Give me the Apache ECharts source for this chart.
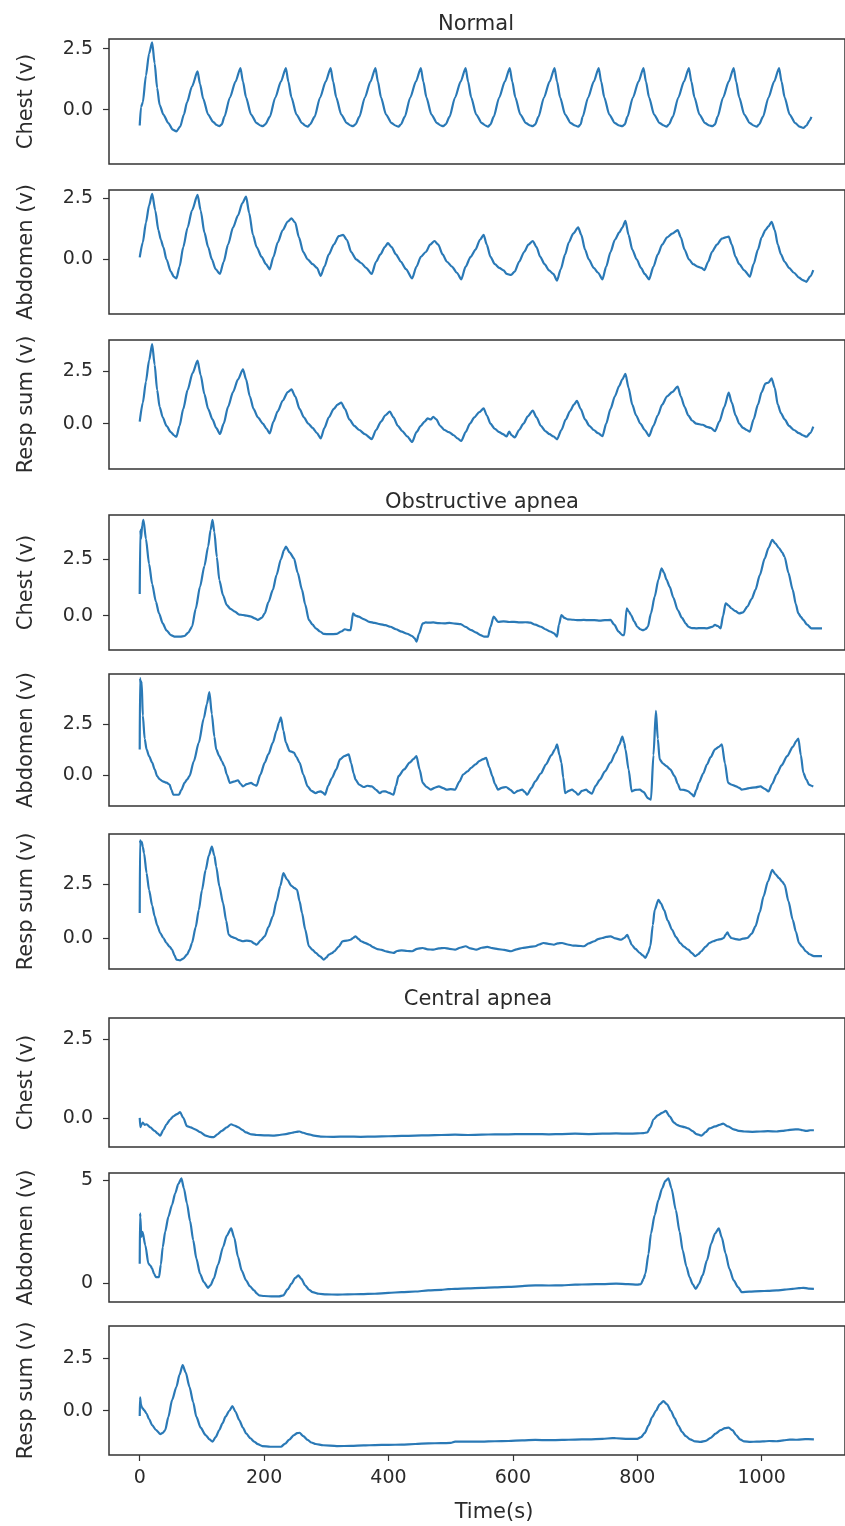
<!DOCTYPE html>
<html>
<head>
<meta charset="utf-8">
<title>Respiration signals</title>
<script src="https://cdn.jsdelivr.net/npm/echarts@6/dist/echarts.min.js"></script>
<style>
  html, body { margin: 0; padding: 0; background: #fff; }
  #chart { width: 845px; height: 1526px; }
</style>
</head>
<body>
<div id="chart"></div>
<script>
// values: [time (s), volts]
const normalChest = [
  [0,-0.65],[2,0.1],[5,0.3],[10,1.4],[15,2.3],[20,2.76],[24,1.9],[28,0.9],[32,0.2],[38,-0.2],[46,-0.55],[53,-0.82],[59,-0.89],[65,-0.7],[71,-0.2],[76,0.3],[84,0.95],[93,1.57],[97,1.05],[102,0.45],[110,-0.2],[118,-0.5],[124,-0.63],[128,-0.68],[132,-0.6],
  [136,-0.3],[145,0.5],[154,1.15],[162,1.71],[166,1.15],[171,0.5],[179,-0.2],[188,-0.55],[194,-0.65],[198,-0.68],[202,-0.6],
  [209,-0.3],[218,0.5],[227,1.15],[235,1.71],[239,1.15],[244,0.5],[252,-0.2],[261,-0.55],[266,-0.65],[270,-0.7],[274,-0.6],
  [281,-0.3],[290,0.5],[299,1.15],[307,1.71],[311,1.15],[316,0.5],[324,-0.2],[333,-0.55],[339,-0.65],[343,-0.68],[347,-0.6],
  [353,-0.3],[362,0.5],[371,1.15],[379,1.71],[383,1.15],[388,0.5],[396,-0.2],[405,-0.55],[411,-0.65],[416,-0.7],[420,-0.6],
  [426,-0.3],[435,0.5],[444,1.15],[452,1.71],[456,1.15],[461,0.5],[469,-0.2],[478,-0.55],[484,-0.65],[488,-0.68],[492,-0.6],
  [498,-0.3],[507,0.5],[516,1.15],[524,1.71],[528,1.15],[533,0.5],[541,-0.2],[550,-0.55],[556,-0.65],[560,-0.7],[564,-0.6],
  [569,-0.3],[578,0.5],[587,1.15],[595,1.71],[599,1.15],[604,0.5],[612,-0.2],[621,-0.55],[628,-0.65],[632,-0.68],[636,-0.6],
  [641,-0.3],[650,0.5],[659,1.15],[667,1.71],[671,1.15],[676,0.5],[684,-0.2],[693,-0.55],[700,-0.65],[705,-0.7],[709,-0.6],
  [712,-0.3],[721,0.5],[730,1.15],[738,1.71],[742,1.15],[747,0.5],[755,-0.2],[764,-0.55],[771,-0.65],[776,-0.68],[780,-0.6],
  [784,-0.3],[793,0.5],[802,1.15],[810,1.71],[814,1.15],[819,0.5],[827,-0.2],[836,-0.55],[843,-0.65],[847,-0.7],[851,-0.6],
  [857,-0.3],[866,0.5],[875,1.15],[883,1.71],[887,1.15],[892,0.5],[900,-0.2],[909,-0.55],[916,-0.65],[921,-0.68],[925,-0.6],
  [929,-0.3],[938,0.5],[947,1.15],[955,1.71],[959,1.15],[964,0.5],[972,-0.2],[981,-0.55],[987,-0.65],[992,-0.7],[996,-0.6],
  [1002,-0.3],[1011,0.5],[1020,1.15],[1028,1.71],[1032,1.15],[1037,0.5],[1045,-0.2],[1054,-0.55],[1061,-0.7],[1067,-0.75],[1072,-0.65],[1077,-0.45],[1080,-0.3]
];
const normalAbdomen = [
  [0,0.08],[5,0.7],[10,1.5],[15,2.2],[20,2.68],[25,2.0],[30,1.2],[34,0.8],[38,0.5],[43,0.0],[50,-0.5],[55,-0.72],[59,-0.78],[64,-0.3],[70,0.5],[77,1.3],[84,2.0],[93,2.64],[98,2.0],[104,1.1],[110,0.5],[116,0.0],[122,-0.4],[129,-0.6],
  [135,-0.1],[142,0.6],[150,1.3],[158,1.8],[165,2.3],[171,2.57],[176,1.9],[182,1.0],[188,0.5],[196,0.1],[203,-0.2],[209,-0.41],[215,0.1],[222,0.7],[230,1.2],[238,1.55],[244,1.68],[250,1.5],[256,0.9],[263,0.3],[270,0.0],[278,-0.2],[285,-0.35],[291,-0.68],
  [297,-0.3],[304,0.2],[312,0.6],[320,0.95],[327,1.0],[333,0.8],[340,0.3],[348,0.0],[356,-0.15],[364,-0.35],[373,-0.6],[380,-0.1],[387,0.2],[394,0.5],[399,0.66],[405,0.5],[412,0.2],[420,-0.1],[428,-0.4],[438,-0.78],
  [445,-0.3],[452,0.1],[460,0.3],[467,0.6],[474,0.75],[480,0.6],[487,0.2],[494,-0.1],[502,-0.3],[510,-0.55],[517,-0.82],[524,-0.3],[532,0.1],[540,0.4],[547,0.8],[553,1.0],[558,0.6],[564,0.1],[571,-0.2],[578,-0.35],[585,-0.45],[590,-0.6],[597,-0.64],
  [603,-0.5],[610,-0.1],[618,0.3],[625,0.6],[632,0.75],[638,0.5],[644,0.1],[651,-0.2],[658,-0.45],[665,-0.6],[671,-0.87],[677,-0.4],[684,0.2],[690,0.7],[697,1.05],[705,1.31],[710,1.0],[716,0.4],[722,0.0],[730,-0.35],[737,-0.55],[744,-0.82],
  [750,-0.3],[757,0.3],[764,0.8],[771,1.1],[776,1.3],[781,1.58],[786,1.0],[792,0.4],[799,0.0],[806,-0.35],[812,-0.6],[819,-0.82],[826,-0.3],[833,0.2],[840,0.6],[848,0.9],[856,1.05],[865,1.2],[870,0.9],[876,0.4],[883,0.0],[890,-0.2],[897,-0.3],[903,-0.35],[908,-0.44],
  [914,-0.1],[920,0.3],[928,0.6],[936,0.85],[942,0.9],[947,0.93],[952,0.6],[958,0.1],[964,-0.2],[972,-0.45],[981,-0.71],[987,-0.2],[994,0.4],[1000,0.9],[1006,1.2],[1011,1.35],[1016,1.54],[1021,1.2],[1026,0.6],[1031,0.2],[1037,-0.1],[1044,-0.35],[1052,-0.55],[1060,-0.75],[1066,-0.85],[1072,-0.92],[1078,-0.7],[1083,-0.44]
];
const normalResp = [
  [0,0.1],[5,1.0],[10,2.0],[15,3.0],[20,3.78],[24,2.8],[28,1.6],[32,0.8],[37,0.3],[43,-0.1],[50,-0.4],[55,-0.55],[59,-0.62],[64,-0.1],[70,0.7],[77,1.6],[85,2.4],[93,2.99],[98,2.3],[104,1.4],[110,0.7],[117,0.2],[123,-0.2],[129,-0.49],
  [135,0.0],[142,0.8],[150,1.5],[158,2.1],[166,2.58],[171,2.1],[177,1.3],[183,0.7],[190,0.3],[198,0.0],[204,-0.25],[209,-0.46],[215,0.1],[222,0.6],[230,1.1],[238,1.5],[244,1.63],[250,1.3],[257,0.7],[264,0.3],[271,0.0],[278,-0.2],[285,-0.45],[291,-0.7],
  [297,-0.2],[304,0.3],[312,0.7],[318,0.9],[324,1.0],[330,0.7],[337,0.2],[345,-0.1],[353,-0.3],[362,-0.5],[373,-0.73],[380,-0.3],[388,0.1],[395,0.4],[402,0.57],[408,0.3],[415,-0.1],[422,-0.35],[430,-0.6],[438,-0.87],
  [445,-0.4],[452,-0.1],[458,0.1],[463,0.25],[468,0.2],[472,0.33],[477,0.2],[483,-0.1],[490,-0.3],[497,-0.4],[505,-0.55],[511,-0.7],[517,-0.82],[524,-0.4],[531,0.0],[538,0.3],[546,0.55],[553,0.73],[558,0.4],[564,0.0],[571,-0.25],[578,-0.4],[584,-0.5],[590,-0.6],[594,-0.38],[598,-0.55],[603,-0.65],
  [610,-0.3],[617,0.0],[624,0.35],[632,0.62],[638,0.3],[645,-0.1],[652,-0.35],[659,-0.5],[665,-0.6],[671,-0.74],[678,-0.3],[685,0.2],[692,0.6],[698,0.9],[703,1.08],[709,0.7],[716,0.2],[723,-0.1],[730,-0.3],[737,-0.45],[744,-0.59],
  [750,0.0],[757,0.7],[764,1.3],[771,1.8],[776,2.1],[781,2.36],[786,1.7],[792,0.9],[798,0.4],[805,0.0],[812,-0.3],[819,-0.59],[826,-0.1],[833,0.4],[840,0.9],[848,1.3],[856,1.5],[865,1.76],[870,1.3],[876,0.8],[882,0.4],[888,0.15],[895,0.0],[905,-0.05],[912,-0.15],[918,-0.2],[925,-0.35],
  [932,0.1],[940,0.8],[947,1.47],[952,1.0],[958,0.4],[964,0.0],[970,-0.2],[976,-0.3],[981,-0.38],[987,0.2],[994,0.9],[1000,1.5],[1006,1.9],[1011,1.95],[1016,2.15],[1021,1.7],[1026,0.9],[1031,0.5],[1037,0.2],[1044,-0.1],[1052,-0.3],[1060,-0.45],[1066,-0.55],[1072,-0.62],[1078,-0.45],[1083,-0.14]
];
const obsChest = [
  [0,0.96],[1,3.8],[2,3.4],[4,4.0],[6,4.25],[10,3.4],[15,2.3],[20,1.4],[26,0.62],[31,0.1],[37,-0.34],[43,-0.65],[50,-0.86],[57,-0.93],[65,-0.93],[72,-0.9],[78,-0.75],[84,-0.5],[90,0.3],[97,1.29],[104,2.2],[110,3.06],[114,3.8],[117,4.25],[120,3.7],[124,2.6],[128,1.58],[134,0.9],[140,0.47],[146,0.3],[153,0.18],[160,0.05],[166,0.03],[172,0.0],[179,-0.04],[185,-0.12],[190,-0.19],[196,-0.1],
  [201,0.1],[207,0.6],[214,1.14],[220,1.8],[227,2.5],[232,2.9],[235,3.06],[241,2.8],[248,2.54],[254,1.9],[261,1.14],[266,0.5],[272,-0.19],[278,-0.4],[283,-0.56],[290,-0.7],[296,-0.81],[305,-0.82],[317,-0.81],[324,-0.7],[330,-0.6],[336,-0.64],[339,-0.64],[343,0.1],[347,0.0],[352,-0.04],[360,-0.15],[369,-0.27],[378,-0.32],[386,-0.37],[395,-0.42],[403,-0.49],[412,-0.6],[421,-0.71],[430,-0.8],[438,-0.9],[442,-1.0],[445,-1.15],[449,-0.8],
  [455,-0.34],[460,-0.3],[464,-0.31],[472,-0.3],[481,-0.33],[490,-0.34],[498,-0.32],[507,-0.35],[516,-0.37],[524,-0.5],[533,-0.64],[541,-0.75],[548,-0.86],[554,-0.93],[560,-0.93],[564,-0.5],[569,-0.04],[576,-0.27],[585,-0.25],[594,-0.28],[602,-0.27],[611,-0.3],[620,-0.29],[628,-0.31],[636,-0.4],[645,-0.49],[652,-0.6],[660,-0.7],[666,-0.78],[671,-0.93],[674,-0.4],[678,0.03],[683,-0.1],[688,-0.16],[697,-0.18],[705,-0.2],[714,-0.19],[722,-0.2],[731,-0.2],[740,-0.22],[748,-0.2],[757,-0.19],
  [763,-0.4],[770,-0.71],[776,-0.86],[779,-0.86],[783,0.33],[786,0.2],[790,0.03],[795,-0.25],[800,-0.49],[805,-0.6],[809,-0.64],[813,-0.6],[817,-0.49],[822,0.1],[828,0.84],[834,1.6],[839,2.1],[843,1.9],[847,1.6],[852,1.29],[858,0.8],[865,0.25],[872,-0.1],[878,-0.35],[882,-0.49],[888,-0.55],[895,-0.56],[903,-0.55],[912,-0.56],[920,-0.5],[925,-0.41],[929,-0.45],[934,-0.56],[938,0.0],[942,0.55],[947,0.45],[951,0.33],[958,0.2],[964,0.1],[970,0.15],[977,0.4],[984,0.75],[990,1.14],[997,1.8],
  [1005,2.54],[1011,3.0],[1017,3.36],[1022,3.2],[1028,2.99],[1033,2.8],[1037,2.6],[1043,1.9],[1050,1.14],[1055,0.5],[1059,0.1],[1063,-0.05],[1067,-0.19],[1073,-0.4],[1080,-0.56],[1088,-0.56],[1097,-0.56]
];
const obsAbdomen = [
  [0,1.28],[0.5,4.77],[2,4.3],[3,4.6],[5,2.93],[8,1.8],[11,1.28],[15,0.95],[20,0.63],[24,0.3],[28,-0.03],[32,-0.18],[37,-0.28],[43,-0.35],[48,-0.44],[51,-0.7],[54,-0.94],[63,-0.94],[67,-0.7],[72,-0.36],[76,-0.2],[80,-0.03],[87,0.7],[95,1.61],[103,2.8],[108,3.5],[112,4.08],[116,3.0],[120,1.9],[123,1.28],[128,0.95],[132,0.7],[136,0.46],[140,0.05],[145,-0.36],[151,-0.3],[158,-0.23],[162,-0.4],[166,-0.53],[172,-0.42],[179,-0.36],[184,-0.45],[188,-0.49],
  [194,0.05],[201,0.63],[207,1.05],[214,1.61],[220,2.2],[224,2.6],[227,2.85],[231,2.2],[235,1.61],[241,1.2],[248,1.12],[252,0.9],[257,0.63],[263,0.05],[270,-0.53],[276,-0.75],[283,-0.86],[287,-0.8],[291,-0.77],[295,-0.85],[298,-0.94],[303,-0.5],[309,-0.12],[316,0.3],[322,0.79],[329,0.95],[336,1.04],[340,0.6],[344,0.1],[347,-0.2],[353,-0.45],[360,-0.56],[366,-0.5],[373,-0.53],[380,-0.7],[386,-0.86],[390,-0.78],[395,-0.77],[401,-0.85],[408,-0.94],
  [412,-0.5],[416,-0.03],[425,0.3],[434,0.63],[440,0.8],[445,0.95],[450,0.3],[455,-0.36],[461,-0.55],[468,-0.69],[474,-0.6],[481,-0.53],[488,-0.62],[494,-0.69],[500,-0.66],[507,-0.69],[514,-0.3],[520,0.05],[527,0.2],[533,0.38],[540,0.55],[546,0.71],[552,0.8],[557,0.87],[562,0.4],[567,-0.03],[571,-0.4],[576,-0.69],[582,-0.6],[589,-0.56],[596,-0.7],[602,-0.86],[608,-0.75],[615,-0.69],[619,-0.8],[623,-0.94],
  [630,-0.6],[636,-0.28],[645,0.1],[653,0.54],[662,1.0],[668,1.3],[671,1.53],[675,1.0],[678,0.63],[681,-0.1],[684,-0.86],[690,-0.75],[695,-0.69],[700,-0.8],[705,-0.94],[711,-0.75],[718,-0.69],[722,-0.8],[727,-0.89],[733,-0.5],[740,-0.2],[748,0.2],[757,0.63],[765,1.1],[771,1.5],[776,1.91],[779,1.6],[781,1.28],[786,0.3],[791,-0.77],[797,-0.7],[804,-0.69],[810,-0.8],[817,-1.1],[822,-1.18],[826,1.0],[830,3.17],[833,1.8],[836,0.79],[841,0.6],[847,0.46],[853,0.3],[860,-0.03],[865,-0.4],[869,-0.69],
  [875,-0.7],[882,-0.77],[887,-0.9],[891,-1.02],[895,-0.7],[899,-0.36],[906,0.1],[912,0.54],[918,0.9],[925,1.28],[931,1.4],[936,1.53],[941,0.6],[946,-0.36],[952,-0.45],[959,-0.53],[964,-0.6],[968,-0.69],[975,-0.65],[981,-0.61],[990,-0.58],[998,-0.53],[1005,-0.65],[1011,-0.77],[1017,-0.4],[1024,0.05],[1032,0.5],[1041,0.95],[1050,1.4],[1056,1.7],[1059,1.81],[1063,1.0],[1067,0.13],[1072,-0.2],[1076,-0.44],[1080,-0.5],[1083,-0.53]
];
const obsResp = [
  [0,1.15],[0.5,4.52],[1,4.37],[3,4.45],[5,4.2],[7,3.91],[11,3.0],[15,2.22],[20,1.5],[24,1.0],[28,0.6],[33,0.23],[38,0.0],[43,-0.23],[48,-0.4],[52,-0.54],[56,-0.8],[59,-1.0],[65,-1.03],[70,-0.95],[76,-0.77],[80,-0.55],[84,-0.23],[90,0.5],[95,1.3],[100,2.2],[106,3.14],[111,3.8],[116,4.22],[120,3.8],[123,3.3],[128,2.4],[134,1.61],[139,0.8],[143,0.15],[148,0.05],[153,0.0],[160,-0.1],[166,-0.15],[172,-0.12],[179,-0.15],[184,-0.25],[188,-0.31],
  [195,-0.1],[201,0.08],[207,0.5],[214,1.0],[220,1.7],[226,2.4],[231,2.99],[237,2.7],[244,2.41],[249,2.3],[253,2.22],[257,1.7],[261,1.15],[266,0.4],[272,-0.38],[278,-0.55],[283,-0.69],[290,-0.85],[296,-1.0],[300,-0.9],[304,-0.77],[309,-0.7],[313,-0.61],[320,-0.4],[326,-0.15],[333,-0.12],[339,-0.08],[343,0.0],[347,0.08],[352,-0.05],[356,-0.15],[362,-0.22],[369,-0.31],[375,-0.42],[382,-0.51],[389,-0.55],[395,-0.61],[401,-0.65],[408,-0.69],[414,-0.6],[421,-0.57],[430,-0.6],[438,-0.61],
  [446,-0.5],[455,-0.46],[463,-0.52],[472,-0.54],[481,-0.48],[490,-0.46],[498,-0.5],[507,-0.54],[515,-0.45],[524,-0.38],[532,-0.48],[541,-0.54],[550,-0.45],[559,-0.41],[567,-0.47],[576,-0.51],[586,-0.55],[597,-0.61],[606,-0.52],[615,-0.46],[625,-0.42],[636,-0.38],[642,-0.3],[649,-0.23],[657,-0.27],[666,-0.31],[672,-0.25],[679,-0.23],[688,-0.3],[697,-0.35],[705,-0.36],[714,-0.38],[722,-0.25],[731,-0.15],[737,-0.05],[744,0.0],[750,0.05],[757,0.08],[765,-0.02],[774,-0.08],[779,0.0],[784,0.15],[787,-0.05],
  [791,-0.31],[797,-0.5],[804,-0.69],[809,-0.8],[813,-0.92],[817,-0.7],[821,-0.38],[825,0.6],[828,1.3],[834,1.76],[838,1.6],[843,1.3],[849,0.8],[856,0.38],[862,0.05],[869,-0.23],[875,-0.4],[882,-0.54],[888,-0.7],[893,-0.84],[898,-0.75],[903,-0.61],[910,-0.4],[916,-0.23],[922,-0.15],[929,-0.08],[935,-0.05],[939,0.0],[942,0.15],[945,0.26],[948,0.1],[951,0.0],[958,-0.05],[964,-0.08],[970,-0.03],[977,0.0],[984,0.2],[990,0.54],[997,1.2],
  [1003,1.92],[1010,2.6],[1017,3.14],[1022,2.95],[1028,2.76],[1033,2.6],[1037,2.45],[1043,1.7],[1050,0.84],[1055,0.3],[1060,-0.23],[1065,-0.4],[1071,-0.61],[1077,-0.75],[1084,-0.84],[1090,-0.84],[1097,-0.84]
];
const cenChest = [
  [0,0.0],[1,-0.29],[3,-0.2],[5,-0.15],[8,-0.22],[11,-0.2],[17,-0.3],[24,-0.41],[29,-0.5],[33,-0.56],[38,-0.38],[43,-0.2],[49,-0.05],[54,0.05],[60,0.12],[65,0.18],[70,0.0],[76,-0.26],[82,-0.3],[89,-0.36],[97,-0.45],[106,-0.56],[113,-0.6],[119,-0.61],[125,-0.52],[132,-0.41],[140,-0.3],[147,-0.2],[152,-0.24],[158,-0.29],[165,-0.38],[171,-0.46],[180,-0.52],[188,-0.54],[200,-0.55],[214,-0.56],[225,-0.54],[235,-0.51],[245,-0.47],[252,-0.44],[257,-0.43],[263,-0.47],[270,-0.51],[280,-0.56],[291,-0.59],
  [310,-0.6],[334,-0.59],[355,-0.6],[378,-0.59],[400,-0.58],[421,-0.57],[443,-0.56],[464,-0.55],[485,-0.54],[507,-0.53],[528,-0.54],[550,-0.53],[571,-0.52],[593,-0.52],[615,-0.51],[636,-0.51],[658,-0.52],[679,-0.51],[700,-0.5],[722,-0.51],[744,-0.5],[766,-0.49],[785,-0.5],[800,-0.49],[810,-0.48],[816,-0.46],[821,-0.3],[826,-0.05],[833,0.08],[840,0.16],[846,0.22],[852,0.05],[859,-0.15],[864,-0.22],[869,-0.26],[876,-0.29],[882,-0.33],[889,-0.42],[895,-0.51],[903,-0.56],[910,-0.45],[916,-0.33],[925,-0.27],[932,-0.22],[938,-0.18],
  [946,-0.27],[955,-0.36],[963,-0.41],[972,-0.43],[985,-0.44],[998,-0.43],[1010,-0.42],[1024,-0.43],[1033,-0.41],[1041,-0.39],[1050,-0.37],[1059,-0.36],[1066,-0.39],[1072,-0.41],[1078,-0.39],[1084,-0.39]
];
const cenAbdomen = [
  [0,0.94],[0.5,3.38],[1,3.21],[2.5,2.24],[4.5,2.48],[9,1.83],[14,0.94],[17,0.85],[20,0.7],[23,0.45],[26,0.29],[31,0.29],[34,0.9],[37,1.75],[41,2.5],[46,3.21],[52,3.8],[57,4.35],[62,4.8],[67,5.08],[71,4.6],[76,3.86],[81,3.0],[86,2.08],[91,1.2],[97,0.45],[103,0.05],[110,-0.23],[114,-0.1],[119,0.21],[126,0.9],[134,1.75],[140,2.3],[147,2.65],[152,2.2],[158,1.27],[164,0.6],[171,0.13],[177,-0.15],[184,-0.36],[188,-0.5],[192,-0.6],[200,-0.63],[214,-0.65],[224,-0.65],[231,-0.6],
  [238,-0.3],[244,-0.03],[250,0.25],[255,0.37],[260,0.2],[266,-0.11],[272,-0.32],[278,-0.44],[288,-0.52],[300,-0.55],[318,-0.56],[334,-0.55],[356,-0.54],[378,-0.52],[400,-0.48],[421,-0.44],[443,-0.41],[464,-0.36],[485,-0.33],[496,-0.3],[507,-0.28],[528,-0.26],[550,-0.23],[571,-0.21],[593,-0.19],[615,-0.15],[636,-0.11],[658,-0.12],[679,-0.11],[700,-0.08],[722,-0.06],[744,-0.05],[766,-0.03],[785,-0.05],[800,-0.08],
  [806,-0.05],[810,0.2],[813,0.45],[818,1.4],[822,2.4],[828,3.3],[834,4.03],[840,4.6],[845,4.95],[850,5.08],[855,4.6],[862,3.54],[868,2.5],[873,1.59],[879,0.8],[884,0.29],[889,-0.05],[894,-0.28],[899,-0.05],[905,0.37],[912,1.1],[919,1.92],[925,2.4],[931,2.65],[936,2.2],[942,1.43],[948,0.7],[955,0.13],[962,-0.2],[968,-0.44],[980,-0.42],[998,-0.39],[1010,-0.38],[1024,-0.36],[1037,-0.32],[1050,-0.28],[1060,-0.25],[1067,-0.23],[1075,-0.27],[1084,-0.28]
];
const cenResp = [
  [0,-0.25],[0.5,0.63],[2,0.3],[3,0.19],[5,0.1],[7,0.03],[11,-0.13],[15,-0.4],[20,-0.68],[26,-0.9],[33,-1.1],[37,-1.05],[41,-0.91],[46,-0.3],[52,0.5],[59,1.13],[64,1.7],[69,2.15],[74,1.8],[80,1.13],[86,0.4],[91,-0.28],[98,-0.8],[106,-1.15],[112,-1.35],[117,-1.46],[122,-1.25],[128,-0.91],[133,-0.6],[138,-0.28],[144,0.0],[149,0.22],[154,-0.05],[160,-0.44],[166,-0.8],[171,-1.07],[178,-1.3],[184,-1.46],[190,-1.58],[197,-1.67],[210,-1.7],[227,-1.7],
  [234,-1.55],[240,-1.38],[248,-1.15],[253,-1.06],[257,-1.04],[263,-1.2],[270,-1.38],[276,-1.5],[283,-1.57],[295,-1.63],[317,-1.67],[340,-1.66],[360,-1.64],[378,-1.62],[400,-1.61],[421,-1.6],[443,-1.57],[464,-1.54],[485,-1.53],[500,-1.52],[507,-1.46],[528,-1.46],[550,-1.46],[571,-1.44],[593,-1.43],[615,-1.4],[636,-1.38],[658,-1.39],[679,-1.38],[700,-1.36],[722,-1.35],[744,-1.33],[760,-1.29],[766,-1.3],[785,-1.33],[800,-1.33],
  [806,-1.25],[812,-1.05],[818,-0.7],[824,-0.3],[830,0.0],[836,0.3],[842,0.45],[848,0.3],[854,0.0],[860,-0.35],[866,-0.7],[872,-1.0],[878,-1.2],[885,-1.35],[893,-1.45],[902,-1.47],[910,-1.42],[918,-1.28],[926,-1.08],[934,-0.92],[941,-0.82],[947,-0.8],[953,-0.92],[959,-1.15],[965,-1.35],[972,-1.45],[982,-1.47],[992,-1.46],[1002,-1.45],[1012,-1.43],[1024,-1.44],[1035,-1.4],[1045,-1.36],[1055,-1.37],[1065,-1.35],[1075,-1.34],[1084,-1.35]
];

const groupTitles = ['Normal', 'Obstructive apnea', 'Central apnea'];
const channelNames = ['Chest (v)', 'Abdomen (v)', 'Resp sum (v)'];
const xTicks = [0, 200, 400, 600, 800, 1000];
const yTicksHalf = [0, 2.5];
const yTicksFull = [0, 2.5, 5];
const yTicksInt = [0, 5];

// layout of the nine panels (px), axis ranges
const panels = [
  { data: normalChest,   top: 39,   height: 125, min: -2.23, max: 2.9,  ticks: yTicksHalf, digits: 1 },
  { data: normalAbdomen, top: 190,  height: 124, min: -2.24, max: 2.84, ticks: yTicksHalf, digits: 1 },
  { data: normalResp,    top: 340,  height: 129, min: -2.15, max: 3.97, ticks: yTicksHalf, digits: 1 },
  { data: obsChest,      top: 515,  height: 135, min: -1.52, max: 4.46, ticks: yTicksHalf, digits: 1 },
  { data: obsAbdomen,    top: 674,  height: 132, min: -1.49, max: 4.97, ticks: yTicksFull, digits: 1 },
  { data: obsResp,       top: 834,  height: 135, min: -1.43, max: 4.8,  ticks: yTicksHalf, digits: 1 },
  { data: cenChest,      top: 1018, height: 129, min: -0.92, max: 3.16, ticks: yTicksHalf, digits: 1 },
  { data: cenAbdomen,    top: 1173, height: 129, min: -0.92, max: 5.34, ticks: yTicksInt,  digits: 0 },
  { data: cenResp,       top: 1326, height: 129, min: -2.09, max: 4.0,  ticks: yTicksHalf, digits: 1 }
];

const FONT = 'DejaVu Sans';
const INK = '#2b2b2b';
const LINE = '#2a79b6';
const PLOT_LEFT = 109;
const PLOT_WIDTH = 743;

const chart = echarts.init(document.getElementById('chart'), null, { renderer: 'canvas' });

const grids = [], xAxes = [], yAxes = [], series = [];
panels.forEach((p, i) => {
  const last = i === panels.length - 1;
  grids.push({
    left: PLOT_LEFT, top: p.top, width: PLOT_WIDTH, height: p.height,
    show: true, borderColor: '#333', borderWidth: 1.5, containLabel: false
  });
  xAxes.push({
    type: 'value', gridIndex: i, min: -49.4, max: 1134,
    axisLine: { show: false, onZero: false },
    splitLine: { show: false },
    axisTick: { show: last, length: 6, lineStyle: { color: '#333', width: 1.2 }, customValues: xTicks },
    axisLabel: {
      show: last, customValues: xTicks, margin: 14, color: INK, fontFamily: FONT, fontSize: 19,
      formatter: v => String(v)
    }
  });
  yAxes.push({
    type: 'value', gridIndex: i, min: p.min, max: p.max,
    name: channelNames[i % 3], nameLocation: 'middle', nameRotate: 90, nameGap: 72,
    nameTextStyle: { color: INK, fontFamily: FONT, fontSize: 21 },
    axisLine: { show: false, onZero: false },
    splitLine: { show: false },
    axisTick: { show: true, length: 6, lineStyle: { color: '#333', width: 1.2 }, customValues: p.ticks },
    axisLabel: {
      customValues: p.ticks, margin: 16, color: INK, fontFamily: FONT, fontSize: 19,
      formatter: v => Number(v).toFixed(p.digits)
    }
  });
  series.push({
    type: 'line', xAxisIndex: i, yAxisIndex: i, data: p.data,
    showSymbol: false, smooth: 0.25, smoothMonotone: 'x', clip: true,
    lineStyle: { color: LINE, width: 2.2 }
  });
});

const textStyle = { fontFamily: FONT, fontSize: 21, fill: INK, align: 'center', verticalAlign: 'middle' };
chart.setOption({
  animation: false,
  grid: grids,
  xAxis: xAxes,
  yAxis: yAxes,
  series: series,
  graphic: [
    { type: 'text', x: 476, y: 25,   style: Object.assign({ text: groupTitles[0] }, textStyle) },
    { type: 'text', x: 482, y: 503,  style: Object.assign({ text: groupTitles[1] }, textStyle) },
    { type: 'text', x: 478, y: 1000, style: Object.assign({ text: groupTitles[2] }, textStyle) },
    { type: 'text', x: 494, y: 1513, style: Object.assign({ text: 'Time(s)' }, textStyle) }
  ]
});
</script>
</body>
</html>
